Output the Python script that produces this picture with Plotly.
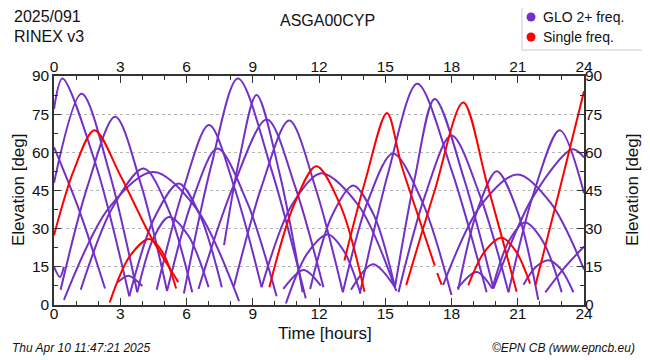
import plotly.graph_objects as go

# ---------------- data (hours, elevation in degrees) ----------------
x_tick_vals = [0, 3, 6, 9, 12, 15, 18, 21, 24]
y_tick_vals = [0, 15, 30, 45, 60, 75, 90]

# GLONASS 2+ frequency passes
g01_h = [0, 0.38, 1.9, 3.41];              g01_e = [77, 89, 55, 3.4]
g02_h = [0, 1.15, 2.31];                   g02_e = [62, 37, 6.5]
g03_h = [0, 1.25, 2.51, 3.77];             g03_e = [48, 83, 52, 5]
g04_h = [0, 0.27, 0.45];                   g04_e = [15, 11, 15]
g05_h = [0.3, 1.53, 2.77, 3.95, 5.12];     g05_e = [6, 47, 74, 47, 5.5]
g06_h = [1.21, 2.63, 4.06, 5.16, 6.26];    g06_e = [6, 38, 53.6, 38, 5]
g07_h = [0.45, 2.47, 4.5, 6.44, 8.38];     g07_e = [2, 38, 52.3, 38, 1.5]
g08_h = [3.41, 4.53, 5.65, 6.62, 7.6];     g08_e = [3.4, 34, 47.8, 35, 7]
g09_h = [3.77, 4.49, 5.2, 6.1, 7.0];       g09_e = [5, 26, 34.6, 27, 7]
g10_h = [2.9, 3.37, 4.0];                  g10_e = [9, 11.5, 7.5]
g11_h = [4.65, 5.84, 7.02, 8.21, 9.4];     g11_e = [6, 45, 70.7, 45, 7]
g12_h = [5.12, 6.26, 7.4, 8.74, 10.08];    g12_e = [5.5, 41, 61.5, 40.5, 3.4]
g13_h = [5.88, 7.1, 8.33, 9.87, 11.4];     g13_e = [4.5, 54, 89, 52.5, 2.6]
g14_h = [7.7, 8.43, 9.17, 10.22, 11.26];   g14_e = [23.5, 59, 82.5, 51.5, 5]
g15_h = [6.54, 8.09, 9.64, 10.92, 12.2];   g15_e = [6.3, 46, 72.9, 46.5, 7]
g16_h = [8.15, 9.4, 10.65, 11.86, 13.08];  g16_e = [7.5, 46.5, 72.5, 45.5, 5]
g17_h = [9.4, 10.75, 12.1, 13.8, 15.5];    g17_e = [7, 39, 51.8, 39, 5.5]
g18_h = [11.6, 12.58, 13.55, 14.5, 15.44]; g18_e = [6.3, 35, 47, 35, 7]
g19_h = [10.5, 11.45, 12.4, 13.14, 13.88]; g19_e = [0.6, 20, 27.7, 21, 4.5]
g20_h = [10.38, 11.3, 12.08];              g20_e = [6.3, 13.8, 7.6]
g21_h = [13.45, 14.44, 15.44];             g21_e = [6, 16, 7]
g22_h = [13.08, 14.22, 15.35, 16.68, 18.0]; g22_e = [5, 41, 59.5, 40.5, 3.9]
g23_h = [13.85, 15.15, 16.45, 18.02, 19.59]; g23_e = [4.5, 52.5, 87, 52.5, 5]
g24_h = [15.44, 16.34, 17.24, 18.57, 19.9]; g24_e = [7, 50, 81, 49.5, 6.5]
g25_h = [15.6, 16.8, 18.0, 19.29, 20.58];  g25_e = [5, 43, 66.6, 43, 5]
g26_h = [18.3, 19.18, 20.05, 21.0, 21.93]; g26_e = [6, 37.5, 52.6, 36.5, 2]
g27_h = [17.62, 19.31, 21.0, 22.5, 24];    g27_e = [7.8, 39, 51.3, 40, 14]
g28_h = [19.85, 20.59, 21.33, 22.16, 22.99]; g28_e = [6.5, 25, 32.4, 24.7, 5]
g29_h = [18.27, 19.14, 19.85];             g29_e = [6.6, 13, 6.5]
g30_h = [21.26, 21.83, 22.4, 22.96, 23.52]; g30_e = [8, 15, 17.6, 14, 5]
g31_h = [20.58, 21.74, 22.9, 24];          g31_e = [5, 44.5, 68.7, 44]
g32_h = [19.9, 21.69, 23.48, 24];          g32_e = [6.5, 42.5, 61.2, 58]
g33_h = [22.25, 23.1, 24];                 g33_e = [5, 14.5, 23]

# Single frequency passes
r01_h = [0, 0.9, 1.83, 3.0, 4.35, 5.63];   r01_e = [27.4, 53, 68.7, 51, 27.4, 9]
r02_h = [2.52, 3.42, 4.32, 4.93, 5.53];    r02_e = [1, 19, 25.9, 20.5, 6.5]
r03_h = [9.75, 10.85, 11.88, 13.0, 14.06]; r03_e = [7, 39, 54.5, 38.5, 5.2]
r04_h = [13.15, 14.1, 15.08, 15.73, 16.48, 17.24, None, 17.35, 17.55]
r04_e = [17.5, 49, 75.5, 55, 35.3, 15.5, None, 12.5, 8]
r05_h = [15.95, 17.24, 18.53, 19.6, 20.95]; r05_e = [7.8, 45, 79.6, 48, 5.2]
r06_h = [18.76, 19.5, 20.27, 20.9, 21.56]; r06_e = [7.8, 21, 26.4, 21.4, 8.4]
r07_h = [21.8, 22.9, 24];                  r07_e = [7.8, 45.5, 84]

legend_labels = ["GLO 2+ freq.", "Single freq."]

glo_passes = [
    (g01_h, g01_e), (g02_h, g02_e), (g03_h, g03_e), (g04_h, g04_e), (g05_h, g05_e),
    (g06_h, g06_e), (g07_h, g07_e), (g08_h, g08_e), (g09_h, g09_e), (g10_h, g10_e),
    (g11_h, g11_e), (g12_h, g12_e), (g13_h, g13_e), (g14_h, g14_e), (g15_h, g15_e),
    (g16_h, g16_e), (g17_h, g17_e), (g18_h, g18_e), (g19_h, g19_e), (g20_h, g20_e),
    (g21_h, g21_e), (g22_h, g22_e), (g23_h, g23_e), (g24_h, g24_e), (g25_h, g25_e),
    (g26_h, g26_e), (g27_h, g27_e), (g28_h, g28_e), (g29_h, g29_e), (g30_h, g30_e),
    (g31_h, g31_e), (g32_h, g32_e), (g33_h, g33_e),
]
single_passes = [
    (r01_h, r01_e), (r02_h, r02_e), (r03_h, r03_e), (r04_h, r04_e),
    (r05_h, r05_e), (r06_h, r06_e), (r07_h, r07_e),
]

# ---------------- styling ----------------
PURPLE = "#7230c6"
RED = "#ff0000"
FONT = "Liberation Sans, Arial, sans-serif"
AXC = "#333333"

# the page body has an 8px default margin: the figure starts at (8, 8) in the window
OFF = 8
W, H = 650 - OFF, 360 - OFF
L, R, T, B = 54 - OFF, 66, 76 - OFF, 55
PW, PH = W - L - R, H - T - B


def px(x):
    """window pixel x -> paper coordinate"""
    return (x - OFF - L) / PW


def py(y):
    """window pixel y -> paper coordinate"""
    return (H - B - (y - OFF)) / PH


fig = go.Figure()

for h, e in glo_passes:
    fig.add_trace(go.Scatter(x=h, y=e, mode="lines",
                             line=dict(color=PURPLE, width=2, shape="spline", smoothing=0.9),
                             showlegend=False, hoverinfo="skip", connectgaps=False))
for h, e in single_passes:
    fig.add_trace(go.Scatter(x=h, y=e, mode="lines",
                             line=dict(color=RED, width=2, shape="spline", smoothing=0.9),
                             showlegend=False, hoverinfo="skip", connectgaps=False))

# invisible trace to activate secondary axes
fig.add_trace(go.Scatter(x=[0, 24], y=[0, 90], xaxis="x2", yaxis="y2", mode="markers",
                         marker=dict(opacity=0), showlegend=False, hoverinfo="skip"))

tickfont = dict(family=FONT, size=15.5, color="#111")

fig.update_layout(
    width=W, height=H,
    margin=dict(l=L, r=R, t=T, b=B, autoexpand=False),
    paper_bgcolor="white", plot_bgcolor="white",
    font=dict(family=FONT, color="#111"),
    showlegend=False,
    xaxis=dict(range=[0, 24], tickmode="array", tickvals=x_tick_vals,
               ticks="inside", ticklen=7, tickwidth=1, tickcolor=AXC,
               showline=True, linecolor=AXC, linewidth=1.5, mirror="ticks",
               minor=dict(tick0=0, dtick=1, ticks="inside", ticklen=4, tickcolor=AXC, showgrid=False),
               showgrid=False, zeroline=False, tickfont=tickfont, ticklabelstandoff=-6),
    xaxis2=dict(overlaying="x", side="top", range=[0, 24], tickmode="array",
                tickvals=x_tick_vals, ticks="", showline=False, showgrid=False,
                zeroline=False, tickfont=tickfont),
    yaxis=dict(range=[0, 90], tickmode="array", tickvals=y_tick_vals,
               ticks="inside", ticklen=7, tickwidth=1, tickcolor=AXC,
               showline=True, linecolor=AXC, linewidth=1.5, mirror="ticks",
               minor=dict(tick0=0, dtick=7.5, ticks="inside", ticklen=4, tickcolor=AXC, showgrid=False),
               showgrid=True, gridcolor="#b4b4b4", griddash="dot", gridwidth=1,
               zeroline=False, tickfont=tickfont),
    yaxis2=dict(overlaying="y", side="right", range=[0, 90], tickmode="array",
                tickvals=y_tick_vals, ticks="", showline=False, showgrid=False,
                zeroline=False, tickfont=tickfont),
)

# custom legend box (paper coordinates)
fig.add_shape(type="rect", xref="paper", yref="paper",
              x0=px(522), x1=px(648), y0=py(50), y1=py(4),
              line=dict(color="#cccccc", width=1), fillcolor="white", layer="above")
for i, (lab, col) in enumerate(zip(legend_labels, [PURPLE, RED])):
    cy = 17 + 20 * i
    fig.add_shape(type="circle", xref="paper", yref="paper",
                  x0=px(526.5), x1=px(535.5), y0=py(cy + 4.5), y1=py(cy - 4.5),
                  line=dict(color=col, width=0), fillcolor=col, layer="above")
    fig.add_annotation(text=lab, x=px(541), y=py(cy), xref="paper", yref="paper",
                       xanchor="left", yanchor="middle", showarrow=False,
                       font=dict(family=FONT, size=14, color="#111"))

annots = [
    dict(text="2025/091", x=12, y=17, xanchor="left", size=16, italic=False, angle=0),
    dict(text="RINEX v3", x=12, y=36, xanchor="left", size=16, italic=False, angle=0),
    dict(text="ASGA00CYP", x=327, y=20, xanchor="center", size=16, italic=False, angle=0),
    dict(text="Time [hours]", x=325, y=333, xanchor="center", size=17, italic=False, angle=0),
    dict(text="Elevation [deg]", x=18, y=190, xanchor="center", size=17, italic=False, angle=-90),
    dict(text="Elevation [deg]", x=632, y=190, xanchor="center", size=17, italic=False, angle=-90),
    dict(text="Thu Apr 10 11:47:21 2025", x=10, y=348, xanchor="left", size=12, italic=True, angle=0),
    dict(text="©EPN CB (www.epncb.eu)", x=637, y=348, xanchor="right", size=12, italic=True, angle=0),
]
for a in annots:
    txt = "<i>%s</i>" % a["text"] if a["italic"] else a["text"]
    fig.add_annotation(text=txt, x=px(a["x"]), y=py(a["y"]), xref="paper", yref="paper",
                       xanchor=a["xanchor"], yanchor="middle", showarrow=False,
                       textangle=a["angle"],
                       font=dict(family=FONT, size=a["size"], color="#111"))

fig.write_html("out.html")
